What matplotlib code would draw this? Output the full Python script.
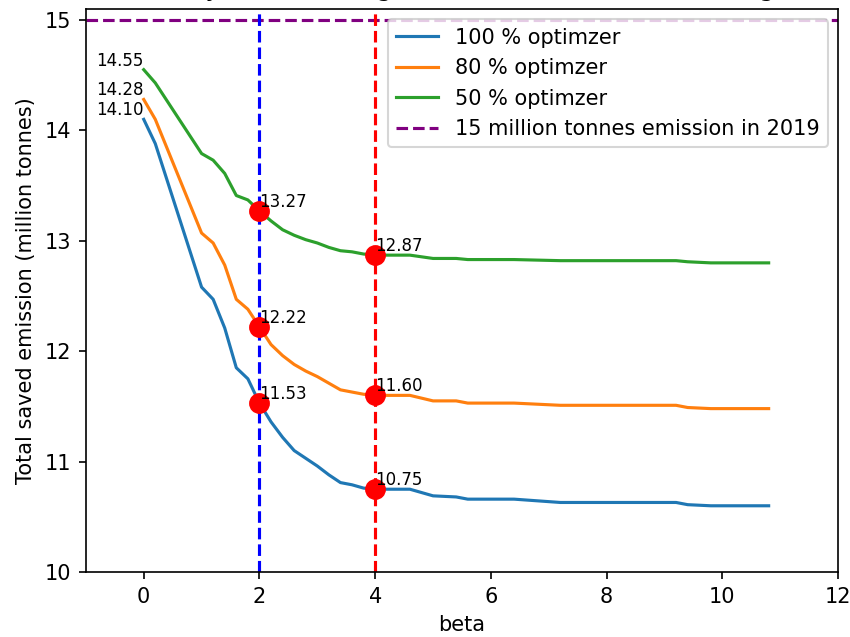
import matplotlib
matplotlib.use("Agg")
from matplotlib import pyplot as plt

# valores de beta (puntos de quiebre de las curvas)
beta = [0, 0.2, 1.0, 1.2, 1.4, 1.6, 1.8, 2.0, 2.2, 2.4, 2.6, 2.8, 3.0, 3.2, 3.4, 3.6, 3.8,
        4.0, 4.6, 5.0, 5.4, 5.6, 6.4, 7.2, 9.2, 9.4, 9.8, 10.8]

emision_100 = [14.10, 13.88, 12.58, 12.47, 12.21, 11.85, 11.75, 11.53, 11.36, 11.22, 11.10,
               11.03, 10.96, 10.88, 10.81, 10.79, 10.76, 10.75, 10.75, 10.69, 10.68, 10.66,
               10.66, 10.63, 10.63, 10.61, 10.60, 10.60]
emision_80 = [14.28, 14.10, 13.07, 12.98, 12.78, 12.47, 12.38, 12.22, 12.06, 11.96, 11.88,
              11.82, 11.77, 11.71, 11.65, 11.63, 11.61, 11.60, 11.60, 11.55, 11.55, 11.53,
              11.53, 11.51, 11.51, 11.49, 11.48, 11.48]
emision_50 = [14.55, 14.43, 13.79, 13.73, 13.61, 13.41, 13.37, 13.27, 13.18, 13.10, 13.05,
              13.01, 12.98, 12.94, 12.91, 12.90, 12.88, 12.87, 12.87, 12.84, 12.84, 12.83,
              12.83, 12.82, 12.82, 12.81, 12.80, 12.80]

etiquetas = ["100 % optimzer", "80 % optimzer", "50 % optimzer"]
limite_2019 = 15
etiqueta_limite = "15 million tonnes emission in 2019"
beta_marcas = [2, 4]

series = [emision_100, emision_80, emision_50]

fig = plt.figure(figsize=(850 / 150, 637 / 150), dpi=150)
ax = fig.add_axes([0.101, 0.102, 0.885, 0.884])

for valores, nombre in zip(series, etiquetas):
    ax.plot(beta, valores, label=nombre)

ax.axhline(limite_2019, color='purple', linestyle='--', label=etiqueta_limite)
ax.axvline(beta_marcas[0], color='blue', linestyle='--')
ax.axvline(beta_marcas[1], color='red', linestyle='--')

# puntos rojos y valores en beta = 2 y 4
for valores in series:
    for b in beta_marcas:
        y = valores[beta.index(b)]
        ax.plot(b, y, 'o', color='red', markersize=9)
        ax.text(b, y, f"{y:.2f}", fontsize=8, ha='left', va='bottom')
    # valor inicial
    ax.text(beta[0], valores[0], f"{valores[0]:.2f}", fontsize=8, ha='right', va='bottom')

ax.set_xlim(-1, 12)
ax.set_ylim(10, 15.1)
ax.set_xticks([0, 2, 4, 6, 8, 10, 12])
ax.set_yticks([10, 11, 12, 13, 14, 15])
ax.set_title("Sensitivity of beta using different levels of total saving rate")
ax.set_xlabel("beta")
ax.set_ylabel("Total saved emission (million tonnes)")
ax.legend(loc='upper right')

fig.savefig("out.png", dpi=150)
